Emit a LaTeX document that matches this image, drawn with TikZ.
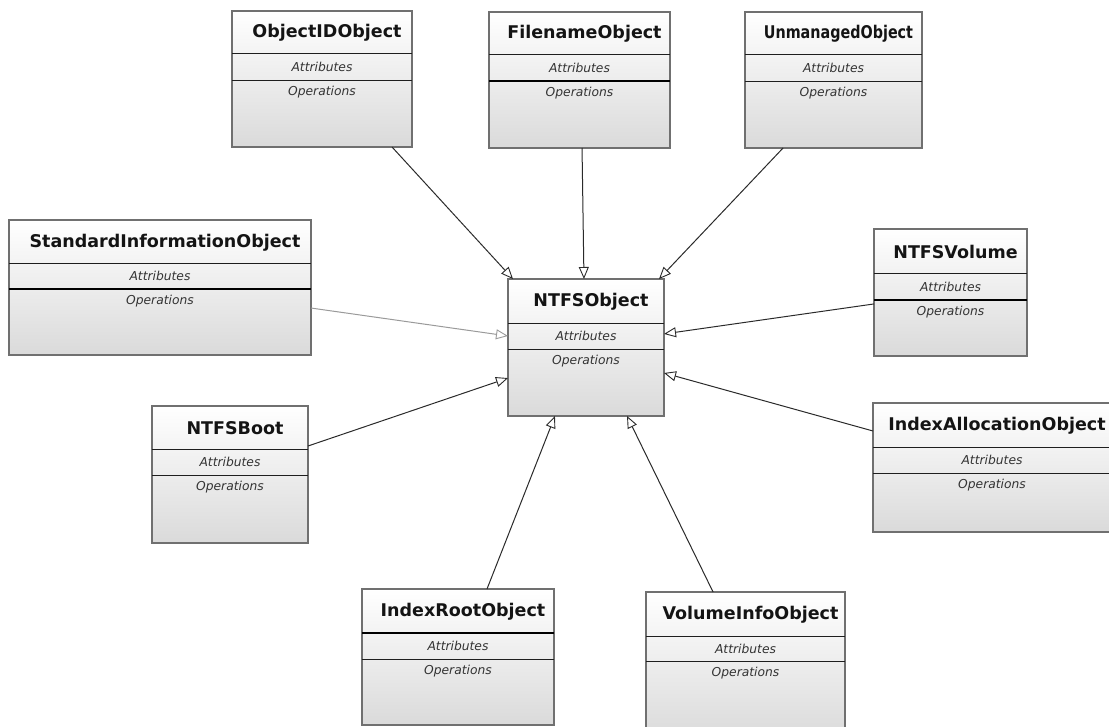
\documentclass[tikz,border=0pt]{standalone}
\usepackage{fontspec}
\setmainfont{DejaVu Sans}
\usetikzlibrary{arrows.meta,calc}

\definecolor{boxedge}{HTML}{707070}
\definecolor{boxbottom}{HTML}{DADADA}
\definecolor{rulecol}{HTML}{1E1E1E}
\definecolor{linkcol}{HTML}{2A2A2A}
\definecolor{lightlink}{HTML}{9A9A9A}

\tikzset{
  classbox/.style={draw=boxedge, line width=1.4pt, rectangle, inner sep=0pt, outer sep=0pt,
                   top color=white, bottom color=boxbottom},
  top rule/.style={draw=rulecol, line width=0.9pt},
  mid rule/.style={draw=rulecol, line width=0.9pt},
  thick rule/.style={draw=black, line width=2pt},
  titletext/.style={font=\bfseries\fontsize{17.5}{20}\selectfont, text=black!92, inner sep=0pt},
  attrtext/.style={font=\itshape\fontsize{12.3}{14}\selectfont, text=black!80, inner sep=0pt},
  gen/.style={draw=linkcol, line width=1pt,
              -{Triangle[open, length=12pt, width=10pt, line width=0.9pt]}},
}

% \umlclass[options]{name}{x1}{y1}{x2}{y2}{first rule y}{second rule y}{title}
\newcommand{\umlclass}[9][]{%
  \begin{scope}[#1]
    \node[classbox, anchor=north west,
          minimum width={(#5-#3)*1pt}, minimum height={(#6-#4)*1pt}] (#2) at (#3,#4) {};
    \draw[top rule] (#3,#7) -- (#5,#7);
    \draw[mid rule] (#3,#8) -- (#5,#8);
    \node[titletext] (#2-title) at ({(#3+#5)/2+5},{(#4+#7)/2+1}) {#9};
    \node[attrtext] (#2-attr) at ({(#3+#5)/2},{(#7+#8)/2}) {Attributes};
    \node[attrtext, anchor=north] (#2-ops) at ({(#3+#5)/2},{#8+6}) {Operations};
  \end{scope}%
}

\begin{document}
\begin{tikzpicture}[x=1pt, y=-1pt]
  \useasboundingbox (0,0) rectangle (1109,726);

  % classes
  \umlclass{objid}{232}{11}{412}{147}{53}{80}{ObjectIDObject}
  \umlclass[mid rule/.style={thick rule}]{filename}{489}{12}{670}{148}{54}{81}{FilenameObject}
  \umlclass{unmanaged}{745}{12}{922}{148}{54}{81}{\scalebox{0.82}[1]{UnmanagedObject}}
  \umlclass[mid rule/.style={thick rule}]{stdinfo}{9}{220}{311}{355}{263}{289}{StandardInformationObject}
  \umlclass{ntfs}{508}{279}{664}{416}{323}{349}{NTFSObject}
  \umlclass[mid rule/.style={thick rule}]{volume}{874}{229}{1027}{356}{273}{300}{NTFSVolume}
  \umlclass{boot}{152}{406}{308}{543}{449}{475}{NTFSBoot}
  \umlclass{indexalloc}{873}{403}{1111}{532}{447}{473}{IndexAllocationObject}
  \umlclass[top rule/.style={thick rule}]{indexroot}{362}{589}{554}{725}{633}{659}{IndexRootObject}
  \umlclass{volinfo}{646}{592}{845}{740}{636}{661}{VolumeInfoObject}

  % generalisations towards NTFSObject
  \draw[gen] ($(objid.south west)!0.889!(objid.south east)$) -- ($(ntfs.north west)!0.032!(ntfs.north east)$);
  \draw[gen] ($(filename.south west)!0.514!(filename.south east)$) -- ($(ntfs.north west)!0.487!(ntfs.north east)$);
  \draw[gen] ($(unmanaged.south west)!0.215!(unmanaged.south east)$) -- ($(ntfs.north west)!0.968!(ntfs.north east)$);
  \draw[gen, draw=lightlink, -{Triangle[open, length=12pt, width=10pt, line width=0.9pt, color=lightlink]}]
       ($(stdinfo.north east)!0.652!(stdinfo.south east)$) -- ($(ntfs.north west)!0.416!(ntfs.south west)$);
  \draw[gen] ($(volume.north west)!0.59!(volume.south west)$) -- ($(ntfs.north east)!0.401!(ntfs.south east)$);
  \draw[gen] ($(indexalloc.north west)!0.217!(indexalloc.south west)$) -- ($(ntfs.north east)!0.686!(ntfs.south east)$);
  \draw[gen] ($(boot.north east)!0.292!(boot.south east)$) -- ($(ntfs.north west)!0.723!(ntfs.south west)$);
  \draw[gen] ($(indexroot.north west)!0.651!(indexroot.north east)$) -- ($(ntfs.south west)!0.301!(ntfs.south east)$);
  \draw[gen] ($(volinfo.north west)!0.337!(volinfo.north east)$) -- ($(ntfs.south west)!0.763!(ntfs.south east)$);
\end{tikzpicture}
\end{document}
